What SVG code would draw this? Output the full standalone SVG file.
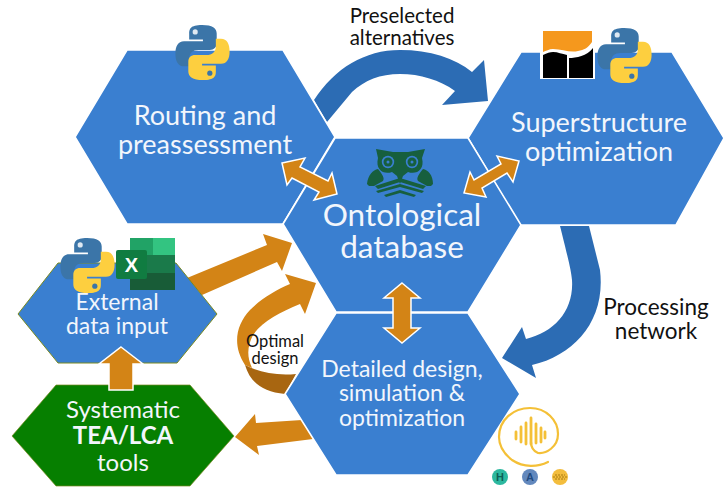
<svg xmlns="http://www.w3.org/2000/svg" width="723" height="487" viewBox="0 0 723 487">
<defs>
<style>
.hex{fill:#3a7fd0;stroke:#fff;stroke-width:1.6}
.t{font-family:"Lato","Open Sans",sans-serif;fill:#f2f6fc;text-anchor:middle}
.k{font-family:"Lato","Open Sans",sans-serif;fill:#111;text-anchor:middle}
.or{fill:#d38416}
.orw{fill:#d38416;stroke:#fff;stroke-width:1.5}
.blue{fill:#2c6cb4}
.ow{fill:#175f3e}
.ic{font-family:"Liberation Sans",sans-serif;font-size:11px;font-weight:700;text-anchor:middle}
</style>
<g id="py">
<path fill="#3b75a8" d="M28 0C14 0 13 5 13 10V17H29V19H7C0 19-3 25-3 33-3 42 0 48 7 48H13V39C13 33 17 29 24 29H37C42 29 45 26 45 21V10C45 4 40 0 28 0Z"/>
<path fill="#fdcf3f" d="M29 64C43 64 44 59 44 54V47H28V45H50C57 45 60 39 60 31 60 22 57 16 50 16H44V25C44 31 40 35 33 35H20C15 35 12 38 12 43V54C12 60 17 64 29 64Z"/>
<circle cx="20" cy="8" r="3" fill="#dfe9f2"/><circle cx="37" cy="56" r="3" fill="#3b75a8"/>
</g>
</defs>
<g id="connectors">
<path class="blue" d="M314 100C335 68 365 50 400 50 430 50 455 58 472 72L484 60 488 101 442 105 455 91C440 80 420 74 400 74 380 74 365 80 352 92L327 122Z"/>
<path class="blue" d="M560 226H589L600 270C606 320 575 355 532 365L536 378 502 358 522 327 526 339C555 332 574 310 572 280 571 270 569 262 560 226Z"/>
<path class="or" d="M187 278 267 245 263 234 292 243 282 271 277 262 202 295Z"/>
<path class="or" d="M245 365C232 345 236 325 250 310 262 298 276 290 290 284L285 274 316 283 305 314 300 304C280 312 262 322 253 335 248 345 246 355 252 368Z"/>
<path d="M245 365C258 372 276 376 296 374L285 394C262 392 250 382 245 365Z" fill="#a86611"/>
<path class="or" d="M302 420 313 439 257 446 259 455 235 437 255 414 256 423Z"/>
</g>
<g id="routing"><path class="hex" d="M75 137 127 50H283L335 137 283 224H127Z"/>
<text class="t" font-size="27"><tspan x="205" y="125">Routing and</tspan><tspan x="205" y="154">preassessment</tspan></text>
<use href="#py" transform="translate(178 25) scale(.86)"/></g>
<g id="superstructure"><path class="hex" d="M468 138 521 52H672L724 138 676 225H520Z"/>
<text class="t" font-size="27"><tspan x="599" y="132">Superstructure</tspan><tspan x="599" y="161">optimization</tspan></text>
<g transform="translate(540 30)"><rect width="55" height="49" fill="#fff"/><path d="M3 1H52V12C48 18 44 20 38 21 30 23 22 19 13 19 9 19 6 21 3 22Z" fill="#f5981d"/><path d="M3 25C7 23 10 22 13 22 18 22 22 24 27 25V48H3ZM29 28C36 28 47 26 53 18V48H29Z" fill="#000"/></g>
<use href="#py" transform="translate(600 28) scale(.86)"/></g>
<g id="ontological"><path class="hex" d="M283 224 335 138H468L521 225 468 312H336Z"/>
<text class="t" font-size="31.5"><tspan x="402" y="226">Ontological</tspan><tspan x="402" y="258">database</tspan></text>
<g>
<path class="ow" d="M376 149 393 152H408L425 149 422 158C425 170 416 175 408 172L403 176 400 184 397 176 392 172C384 175 375 170 378 158Z"/>
<circle cx="388" cy="162" r="6.2" fill="#3a7fd0"/><circle cx="412" cy="162" r="6.2" fill="#3a7fd0"/><circle class="ow" cx="388" cy="162" r="4.5"/><circle class="ow" cx="412" cy="162" r="4.5"/><circle cx="388" cy="162" r="1.5" fill="#3a7fd0"/><circle cx="412" cy="162" r="1.5" fill="#3a7fd0"/>
<path class="ow" d="M367 184C368 175 373 170 378 169 382 174 385 178 383 181L374 186 369 186ZM433 184C433 175 428 170 423 169 419 174 416 178 418 181L427 186 431 186Z"/>
<path class="ow" d="M375 186 400 178 426 186 423 189 400 182 378 189ZM376 191 400 184 424 191 422 193 400 187 378 193ZM384 195 400 190 416 195 414 197 400 193 386 197Z"/></g>
</g>
<g id="detailed"><path class="hex" d="M285 394 336 313H468L520 394 468 475H336Z"/>
<text class="t" font-size="23"><tspan x="402" y="377">Detailed design,</tspan><tspan x="402" y="401">simulation &amp;</tspan><tspan x="402" y="426">optimization</tspan></text>
<g fill="none" stroke="#f4c037" stroke-linecap="round"><path stroke-width="2.2" d="M548 462C538 467 524 468 512 460 503 453 499 445 499 437 499 420 513 408 530 408 546 408 558 420 558 434 558 447 546 454 538 453 533 451 531 447 531 442"/><path stroke-width="2.8" d="M516 432V439M521 427V442M526 423V444M531 418V444M536 424V443M541 428V442M545 432V438"/></g>
<circle cx="500" cy="477" r="8" fill="#2cb89f"/><circle cx="530" cy="477" r="8" fill="#6288bd"/><circle cx="560" cy="477" r="8" fill="#f3bd3d"/>
<text class="ic" x="500" y="481" fill="#0d5f55">H</text>
<text class="ic" x="530" y="481" fill="#1f4a80">A</text>
<path d="M553 477H567M555 475H565M555 479H565" stroke="#a87a10" stroke-width="1" stroke-dasharray="2 1" fill="none"/>
</g>
<g id="external"><path d="M18 314 58 263H176L217 314 177 363H58Z" fill="#3a7fd0" stroke="#7a8a20" stroke-width="1"/>
<text class="t" font-size="23"><tspan x="117" y="310">External</tspan><tspan x="117" y="334">data input</tspan></text>
<use href="#py" transform="translate(63 238) scale(.86)"/>
<g><path d="M130 238H175V290H130Z" fill="#1a7a4a"/><path d="M153 238H175V255H153Z" fill="#33c481"/><path d="M130 238H153V255H130Z" fill="#21a366"/><path d="M130 273H175V290H130Z" fill="#185c37"/><rect x="116" y="250" width="31" height="29" rx="2" fill="#107c41"/><text x="131.500" y="272" font-family="Liberation Sans,sans-serif" font-size="20" font-weight="700" fill="#fff" text-anchor="middle">X</text></g></g>
<g id="tools"><path d="M12 436 56 385H190L234 436 190 486H56Z" fill="#067f00" stroke="#7a8a20" stroke-width=".7"/>
<text class="t" font-size="24"><tspan x="123" y="418">Systematic</tspan><tspan x="123" y="444" font-weight="700">TEA/LCA</tspan><tspan x="123" y="471">tools</tspan></text></g>
<g id="double-arrows">
<path class="orw" d="M121 347 143 364H133V390H109V364H99Z"/>
<path class="orw" d="M282 163 305 158 300 167 328 181 332 173 337 194 314 200 319 192 292 178 287 185Z"/>
<path class="orw" d="M464 193 470 172 474 180 501 164 497 156 519 161 513 182 507 173 482 188 486 197Z"/>
<path class="orw" d="M402 283 420 298H411V328H420L402 343 384 328H393V298H384Z"/>
</g>
<g id="labels">
<text class="k" font-size="20.500"><tspan x="402" y="23">Preselected</tspan><tspan x="402" y="45">alternatives</tspan></text>
<text class="k" font-size="22.500"><tspan x="656" y="315">Processing</tspan><tspan x="656" y="339">network</tspan></text>
<text class="k" font-size="16.500"><tspan x="275" y="347">Optimal</tspan><tspan x="275" y="364">design</tspan></text>
</g>
</svg>
